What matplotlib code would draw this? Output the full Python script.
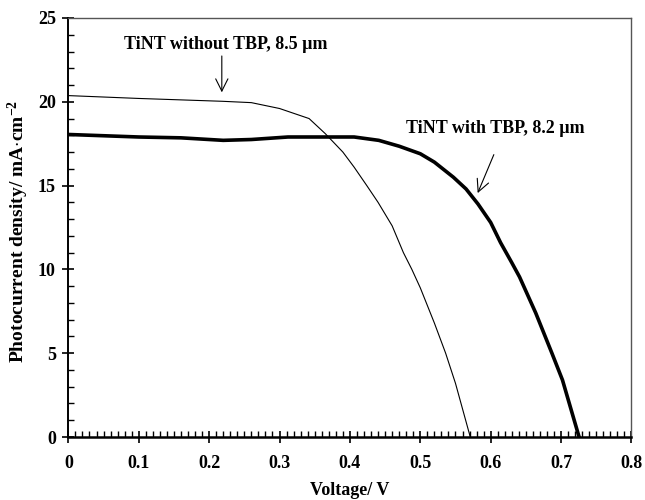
import matplotlib
matplotlib.use('Agg')
import matplotlib.pyplot as plt
from matplotlib.ticker import MultipleLocator, FormatStrFormatter

# J-V curves
v_no_tbp = [0.0, 0.10, 0.219, 0.26, 0.300, 0.342, 0.365, 0.390, 0.406, 0.424,
            0.440, 0.460, 0.476, 0.488, 0.500, 0.520, 0.536, 0.550, 0.571]
j_no_tbp = [20.37, 20.2, 20.03, 19.95, 19.6, 19.0, 18.1, 17.0, 16.1, 15.0,
            14.0, 12.6, 11.0, 10.0, 8.9, 6.8, 5.0, 3.2, 0.0]

v_tbp = [0.0, 0.10, 0.16, 0.22, 0.26, 0.312, 0.406, 0.441, 0.470, 0.500,
         0.520, 0.547, 0.565, 0.582, 0.600, 0.614, 0.630, 0.641, 0.664,
         0.687, 0.702, 0.7256]
j_tbp = [18.05, 17.9, 17.85, 17.7, 17.75, 17.9, 17.9, 17.7, 17.35, 16.9,
         16.4, 15.5, 14.8, 13.9, 12.8, 11.6, 10.4, 9.55, 7.4,
         5.0, 3.4, 0.0]

label_no_tbp = "TiNT without TBP, 8.5 \u00b5m"
label_tbp = "TiNT with TBP, 8.2 \u00b5m"

plt.rcParams['font.family'] = ['Liberation Serif', 'DejaVu Serif']
plt.rcParams['font.weight'] = 'bold'
plt.rcParams['mathtext.fontset'] = 'custom'
plt.rcParams['mathtext.rm'] = 'Liberation Serif:bold'
plt.rcParams['mathtext.it'] = 'Liberation Serif:bold'
plt.rcParams['mathtext.bf'] = 'Liberation Serif:bold'

fig = plt.figure(figsize=(6.45, 5.0), dpi=100)
ax = fig.add_axes([0.106, 0.126, 0.873, 0.838])

ax.plot(v_no_tbp, j_no_tbp, color="black", linewidth=0.8)
ax.plot(v_tbp, j_tbp, color="black", linewidth=2.6)

ax.set_xlim(0, 0.8)
ax.set_ylim(0, 25)

ax.xaxis.set_major_locator(MultipleLocator(0.1))
ax.xaxis.set_minor_locator(MultipleLocator(0.01))
ax.yaxis.set_major_locator(MultipleLocator(5))
ax.yaxis.set_minor_locator(MultipleLocator(1))

def fmt_x(v, pos):
    return "0" if abs(v) < 1e-9 else f"{v:.1f}"

ax.xaxis.set_major_formatter(plt.FuncFormatter(fmt_x))
ax.yaxis.set_major_formatter(FormatStrFormatter("%d"))

ax.tick_params(axis="both", which="major", direction="inout", length=8,
               width=1.2, labelsize=13, pad=5)
ax.tick_params(axis="both", which="minor", direction="in", length=4, width=1)
ax.tick_params(axis="x", which="major", pad=9)

ax.spines["bottom"].set_linewidth(1.8)
ax.spines["left"].set_linewidth(1.4)
ax.spines["top"].set_linewidth(1.0)
ax.spines["top"].set_color("#555555")
ax.spines["right"].set_linewidth(1.0)
ax.spines["right"].set_color("#555555")

ax.set_xlabel("Voltage/ V", fontsize=13, fontweight="bold", labelpad=7)
ax.set_ylabel(r"Photocurrent density/ mA$\cdot$cm$^{-2}$", fontsize=14,
              fontweight="bold")
ax.yaxis.set_label_coords(-0.066, 0.49)

arrow = dict(arrowstyle="->", color="black", linewidth=0.8, mutation_scale=22)
ax.annotate(label_no_tbp, xy=(0.218, 20.4), xytext=(0.224, 23.4),
            ha="center", va="center", fontsize=13, fontweight="bold")
ax.annotate("", xy=(0.218, 20.4), xytext=(0.218, 22.9), arrowprops=arrow)
ax.annotate(label_tbp, xy=(0.58, 14.4), xytext=(0.607, 18.4),
            ha="center", va="center", fontsize=13, fontweight="bold")
ax.annotate("", xy=(0.58, 14.4), xytext=(0.606, 17.0), arrowprops=arrow)

fig.savefig("out.png", dpi=100)
